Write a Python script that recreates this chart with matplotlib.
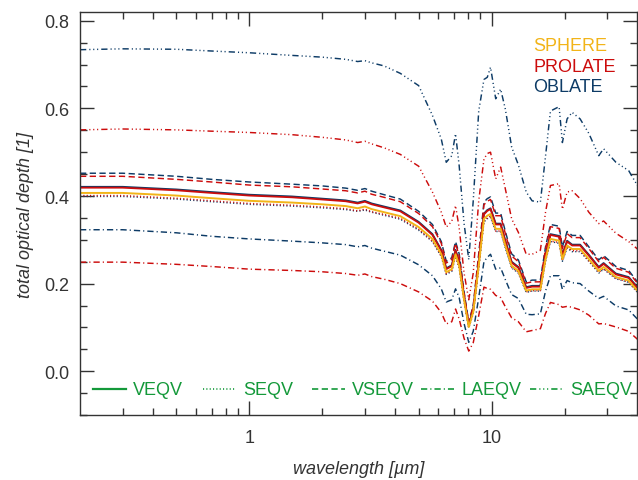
import numpy as np
import matplotlib
matplotlib.use("Agg")
import matplotlib.pyplot as plt
from matplotlib.ticker import FixedLocator, MultipleLocator, NullFormatter

plt.rcParams['font.family'] = ['Liberation Sans', 'DejaVu Sans']
plt.rcParams['lines.scale_dashes'] = False

# wavelength grid [um]
wavelength = [0.2, 0.3, 0.5, 0.7, 1.0, 1.5, 2.0, 2.5, 2.8, 3.0, 3.2, 3.6, 4.2, 5.0,
              5.7, 6.2, 6.5, 6.85, 7.1, 7.35, 7.7, 8.05, 8.4, 8.85, 9.3, 9.6, 9.9,
              10.4, 10.9, 11.4, 12.1, 12.9, 13.9, 14.7, 15.9, 16.7, 17.5, 19.0,
              19.6, 20.5, 21.5, 23.2, 25.2, 27.7, 29.0, 32.6, 36.8, 40.0]

sphere = [0.407, 0.407, 0.401, 0.395, 0.389, 0.385, 0.381, 0.377, 0.372, 0.376, 0.370, 0.363,
          0.354, 0.329, 0.302, 0.267, 0.226, 0.233, 0.267, 0.241, 0.163, 0.101, 0.135, 0.241,
          0.348, 0.355, 0.359, 0.325, 0.325, 0.287, 0.241, 0.229, 0.184, 0.187, 0.187, 0.256,
          0.302, 0.298, 0.256, 0.287, 0.279, 0.279, 0.256, 0.229, 0.238, 0.215, 0.207, 0.184]

# prolate spheroids
prolate_veqv = [0.419, 0.419, 0.413, 0.407, 0.401, 0.397, 0.392, 0.388, 0.383, 0.387, 0.381, 0.374,
                0.365, 0.339, 0.311, 0.275, 0.233, 0.240, 0.275, 0.248, 0.168, 0.104, 0.139, 0.248,
                0.358, 0.366, 0.370, 0.335, 0.335, 0.296, 0.248, 0.236, 0.190, 0.193, 0.193, 0.264,
                0.311, 0.307, 0.264, 0.296, 0.287, 0.287, 0.264, 0.236, 0.245, 0.221, 0.213, 0.190]
prolate_seqv = [0.401, 0.401, 0.395, 0.389, 0.383, 0.379, 0.375, 0.371, 0.366, 0.370, 0.364, 0.358,
                0.349, 0.324, 0.297, 0.263, 0.223, 0.230, 0.263, 0.237, 0.161, 0.099, 0.133, 0.237,
                0.343, 0.350, 0.354, 0.320, 0.320, 0.283, 0.237, 0.226, 0.181, 0.184, 0.184, 0.252,
                0.297, 0.294, 0.252, 0.283, 0.275, 0.275, 0.252, 0.226, 0.234, 0.212, 0.204, 0.181]
prolate_vseqv = [0.445, 0.445, 0.438, 0.432, 0.425, 0.421, 0.416, 0.412, 0.407, 0.411, 0.404, 0.397,
                 0.387, 0.360, 0.330, 0.292, 0.247, 0.255, 0.292, 0.263, 0.178, 0.110, 0.148, 0.263,
                 0.380, 0.388, 0.392, 0.355, 0.355, 0.314, 0.263, 0.250, 0.201, 0.204, 0.204, 0.280,
                 0.330, 0.326, 0.280, 0.314, 0.305, 0.305, 0.280, 0.250, 0.260, 0.235, 0.226, 0.201]
prolate_laeqv = [0.249, 0.249, 0.244, 0.239, 0.233, 0.230, 0.227, 0.223, 0.219, 0.222, 0.216, 0.210,
                 0.200, 0.181, 0.160, 0.134, 0.108, 0.113, 0.142, 0.119, 0.075, 0.046, 0.065, 0.127,
                 0.192, 0.189, 0.187, 0.173, 0.168, 0.147, 0.122, 0.113, 0.090, 0.093, 0.097, 0.132,
                 0.157, 0.152, 0.146, 0.148, 0.146, 0.140, 0.128, 0.108, 0.109, 0.101, 0.091, 0.073]
prolate_saeqv = [0.551, 0.553, 0.551, 0.548, 0.545, 0.540, 0.534, 0.528, 0.522, 0.525, 0.519, 0.510,
                 0.495, 0.468, 0.409, 0.363, 0.329, 0.342, 0.378, 0.327, 0.224, 0.163, 0.224, 0.389,
                 0.484, 0.497, 0.500, 0.439, 0.466, 0.416, 0.348, 0.317, 0.267, 0.267, 0.276, 0.363,
                 0.424, 0.428, 0.370, 0.409, 0.412, 0.394, 0.363, 0.337, 0.343, 0.315, 0.296, 0.279]

# oblate spheroids
oblate_veqv = [0.421, 0.421, 0.415, 0.409, 0.403, 0.399, 0.394, 0.390, 0.385, 0.389, 0.383, 0.376,
               0.367, 0.341, 0.313, 0.277, 0.235, 0.242, 0.277, 0.250, 0.170, 0.106, 0.141, 0.250,
               0.360, 0.368, 0.372, 0.337, 0.337, 0.298, 0.250, 0.238, 0.192, 0.195, 0.195, 0.266,
               0.313, 0.309, 0.266, 0.298, 0.289, 0.289, 0.266, 0.238, 0.247, 0.223, 0.215, 0.192]
oblate_seqv = [0.399, 0.399, 0.393, 0.387, 0.381, 0.377, 0.373, 0.369, 0.365, 0.368, 0.363, 0.356,
               0.347, 0.322, 0.296, 0.262, 0.221, 0.228, 0.262, 0.236, 0.160, 0.099, 0.132, 0.236,
               0.341, 0.348, 0.352, 0.319, 0.319, 0.281, 0.236, 0.224, 0.180, 0.183, 0.183, 0.251,
               0.296, 0.292, 0.251, 0.281, 0.273, 0.273, 0.251, 0.224, 0.233, 0.211, 0.203, 0.180]
oblate_vseqv = [0.452, 0.452, 0.445, 0.438, 0.432, 0.427, 0.423, 0.418, 0.413, 0.417, 0.411, 0.403,
                0.393, 0.365, 0.335, 0.296, 0.251, 0.259, 0.296, 0.268, 0.181, 0.112, 0.150, 0.268,
                0.386, 0.394, 0.398, 0.361, 0.361, 0.319, 0.268, 0.254, 0.204, 0.208, 0.208, 0.284,
                0.335, 0.331, 0.284, 0.319, 0.310, 0.310, 0.284, 0.254, 0.264, 0.239, 0.230, 0.204]
oblate_laeqv = [0.323, 0.323, 0.316, 0.308, 0.302, 0.297, 0.293, 0.289, 0.284, 0.287, 0.281, 0.274,
                0.265, 0.243, 0.218, 0.188, 0.158, 0.163, 0.188, 0.168, 0.109, 0.066, 0.091, 0.168,
                0.250, 0.260, 0.267, 0.233, 0.236, 0.209, 0.175, 0.166, 0.130, 0.129, 0.131, 0.183,
                0.218, 0.218, 0.187, 0.207, 0.202, 0.200, 0.183, 0.166, 0.171, 0.149, 0.140, 0.119]
oblate_saeqv = [0.734, 0.736, 0.735, 0.731, 0.727, 0.721, 0.717, 0.712, 0.707, 0.709, 0.704, 0.697,
                0.680, 0.652, 0.584, 0.530, 0.477, 0.492, 0.542, 0.469, 0.337, 0.255, 0.389, 0.594,
                0.666, 0.671, 0.694, 0.622, 0.644, 0.598, 0.512, 0.471, 0.409, 0.389, 0.386, 0.491,
                0.594, 0.604, 0.522, 0.576, 0.591, 0.576, 0.543, 0.492, 0.508, 0.477, 0.458, 0.424]

equiv_names = ["VEQV", "SEQV", "VSEQV", "LAEQV", "SAEQV"]
shape_names = ["SPHERE", "PROLATE", "OBLATE"]

c_sph = "#f2b418"
c_pro = "#cc0c0c"
c_obl = "#0d3b66"
c_leg = "#14993a"
axcol = "#333333"

styles = ["-", (0, (0.8, 1.6)), (0, (4.5, 2.5)), (0, (4.5, 2.2, 0.8, 2.2)),
          (0, (4.5, 2.2, 0.8, 2.0, 0.8, 2.0, 0.8, 2.2))]

fig = plt.figure(figsize=(6.38, 4.81), dpi=100)
ax = fig.add_axes([0.1254, 0.1351, 0.8737, 0.8378])

x = np.array(wavelength)
oblate = [oblate_veqv, oblate_seqv, oblate_vseqv, oblate_laeqv, oblate_saeqv]
prolate = [prolate_veqv, prolate_seqv, prolate_vseqv, prolate_laeqv, prolate_saeqv]
for i in range(5):
    ax.plot(x, oblate[i], color=c_obl, ls=styles[i], lw=1.3 if i == 0 else 1.05)
for i in range(5):
    ax.plot(x, prolate[i], color=c_pro, ls=styles[i], lw=1.3 if i == 0 else 1.05)
ax.plot(x, sphere, color=c_sph, ls="-", lw=1.4)

ax.set_xscale("log")
ax.set_xlim(0.2, 40)
ax.set_ylim(-0.1, 0.82)

ax.xaxis.set_major_locator(FixedLocator([1, 10]))
ax.xaxis.set_major_formatter(plt.FixedFormatter(["1", "10"]))
minor_x = [0.3, 0.4, 0.5, 0.6, 0.7, 0.8, 0.9, 2, 3, 4, 5, 6, 7, 8, 9, 20, 30]
ax.xaxis.set_minor_locator(FixedLocator(minor_x))
ax.xaxis.set_minor_formatter(NullFormatter())
ax.yaxis.set_major_locator(FixedLocator([0.0, 0.2, 0.4, 0.6, 0.8]))
ax.yaxis.set_major_formatter(plt.FormatStrFormatter("%.1f"))
ax.yaxis.set_minor_locator(MultipleLocator(0.05))

ax.tick_params(which="both", direction="in", top=True, right=True, colors=axcol,
               labelsize=13, width=1.0)
ax.tick_params(which="major", length=10)
ax.tick_params(axis="x", which="major", pad=10)
ax.tick_params(axis="y", which="major", pad=8)
ax.tick_params(which="minor", length=5)
for sp in ax.spines.values():
    sp.set_color(axcol)
    sp.set_linewidth(1.0)

ax.set_xlabel("wavelength [µm]", fontsize=13, style="italic", color=axcol, labelpad=10)
ax.set_ylabel("total optical depth [1]", fontsize=13, style="italic", color=axcol, labelpad=7)

# shape legend (top right)
for name, col, yy in zip(shape_names, [c_sph, c_pro, c_obl], [0.918, 0.866, 0.816]):
    ax.text(0.8127, yy, name, color=col, fontsize=13, transform=ax.transAxes,
            ha="left", va="center")

# equivalence legend (bottom)
x0 = [0.0233, 0.2207, 0.4162, 0.6117, 0.8073]
for name, st, xs in zip(equiv_names, styles, x0):
    ax.plot([xs, xs + 0.06], [0.0645, 0.0645], transform=ax.transAxes,
            color=c_leg, ls=st, lw=1.6 if st == "-" else 1.2)
    ax.text(xs + 0.072, 0.0645, name, color=c_leg, fontsize=13, transform=ax.transAxes,
            ha="left", va="center")

fig.savefig("out.png", dpi=100)
